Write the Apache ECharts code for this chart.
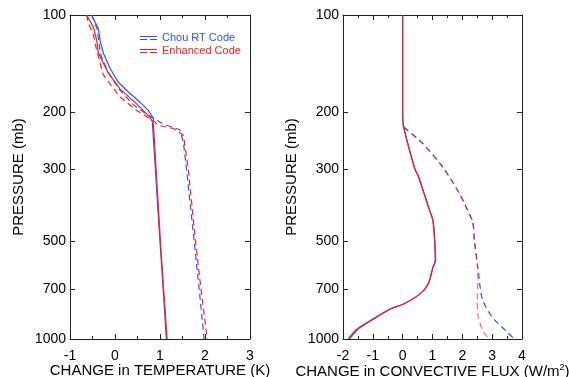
<!DOCTYPE html>
<html><head><meta charset="utf-8">
<script src="https://cdn.jsdelivr.net/npm/echarts@6/dist/echarts.min.js"></script>
<style>html,body{margin:0;padding:0;background:#fff}#c{width:569px;height:377px}</style>
</head><body><div id="c"></div>
<script>
const pressureTicks = [100, 200, 300, 500, 700, 1000];

// Left panel: change in temperature (K)
const tChouSolidP = [100, 110, 120, 131, 146, 161, 171, 186, 197, 209, 216, 225, 500, 700, 1000];
const tChouSolidX = [-0.52, -0.37, -0.33, -0.26, -0.11, 0.07, 0.26, 0.56, 0.74, 0.86, 0.83, 0.84, 1.0, 1.07, 1.14];
const tEnhSolidP = [100, 109, 119, 131, 150, 169, 188, 207, 216, 225, 500, 700, 1000];
const tEnhSolidX = [-0.63, -0.48, -0.41, -0.37, -0.16, 0.11, 0.48, 0.78, 0.85, 0.86, 1.01, 1.08, 1.16];
const tChouDashP = [100, 110, 120, 131, 150, 170, 190, 203, 210, 217, 226, 247, 300, 500, 700, 1000];
const tChouDashX = [-0.52, -0.40, -0.36, -0.33, -0.16, 0.1, 0.42, 0.72, 0.89, 1.07, 1.44, 1.52, 1.59, 1.76, 1.87, 1.98];
const tEnhDashP = [100, 106, 115, 128, 153, 179, 197, 209, 214, 219, 224, 235, 256, 300, 500, 700, 1000];
const tEnhDashX = [-0.63, -0.59, -0.48, -0.41, -0.26, 0.11, 0.48, 0.78, 0.89, 0.96, 1.3, 1.52, 1.56, 1.63, 1.79, 1.91, 2.05];

// Right panel: change in convective flux (W/m2)
const fChouSolidP = [100, 205, 222, 298, 313, 401, 431, 500, 573, 601, 677, 727, 781, 809, 879, 933, 1000];
const fChouSolidX = [0, 0, 0.04, 0.41, 0.52, 0.91, 1.02, 1.08, 1.1, 1.02, 0.86, 0.58, 0.02, -0.42, -1.07, -1.5, -1.78];
const fEnhSolidP = [100, 205, 222, 298, 313, 401, 431, 500, 573, 601, 677, 727, 781, 809, 879, 933, 1000];
const fEnhSolidX = [0, 0, 0.03, 0.40, 0.51, 0.90, 1.01, 1.07, 1.09, 1.01, 0.85, 0.57, 0.01, -0.44, -1.1, -1.54, -1.83];
const fChouDashP = [222, 250, 295, 356, 392, 436, 500, 601, 694, 763, 860, 945, 1000];
const fChouDashX = [0.04, 0.69, 1.35, 1.91, 2.13, 2.35, 2.41, 2.52, 2.6, 2.69, 3.02, 3.47, 3.74];
const fEnhDashP = [222, 250, 295, 356, 392, 436, 500, 601, 661, 763, 839, 945, 1000];
const fEnhDashX = [0.03, 0.68, 1.34, 1.90, 2.12, 2.34, 2.40, 2.51, 2.52, 2.5, 2.52, 2.69, 2.91];

const BLUE = '#2457ff', RED = '#ff1a1a', AX = '#222';
const FONT = 'Liberation Sans, Arial, Helvetica, sans-serif';

function zip(xs, ps) { return xs.map((x, i) => [x, ps[i]]); }

function xAxis(grid, min, max, pos, name) {
  return {
    type: 'value', gridIndex: grid, min: min, max: max, interval: 1, position: pos,
    name: name || '', nameLocation: 'middle', nameGap: 24, nameMoveOverlap: false,
    nameTextStyle: { fontFamily: FONT, fontSize: 15, color: '#000',
      rich: { sup: { fontFamily: FONT, fontSize: 9, verticalAlign: 'top', padding: [0, 0, 8, 0], color: '#000' } } },
    axisLine: { show: true, onZero: false, lineStyle: { color: AX, width: 1 } },
    axisTick: { show: true, inside: true, length: 5, lineStyle: { color: AX, width: 1 } },
    minorTick: { show: true, splitNumber: 2, length: 3, lineStyle: { color: AX, width: 1 } },
    axisLabel: { show: pos === 'bottom', margin: 10, fontFamily: FONT, fontSize: 14, color: '#000',
      formatter: v => String(v) },
    splitLine: { show: false }
  };
}
function yAxis(grid, pos, showName) {
  return {
    type: 'log', logBase: 10, gridIndex: grid, min: 100, max: 1000, inverse: true, position: pos,
    name: showName ? 'PRESSURE (mb)' : '', nameLocation: 'middle', nameRotate: 90, nameGap: 44,
    nameTextStyle: { fontFamily: FONT, fontSize: 15, color: '#000' },
    axisLine: { show: true, onZero: false, lineStyle: { color: AX, width: 1 } },
    axisTick: { show: true, inside: true, length: 5, customValues: pressureTicks, lineStyle: { color: AX, width: 1 } },
    minorTick: { show: false },
    axisLabel: { show: pos === 'left', margin: 4, fontFamily: FONT, fontSize: 14, color: '#000',
      customValues: pressureTicks, formatter: v => String(Math.round(v)) },
    splitLine: { show: false }
  };
}
function line(name, color, dashed, xi, yi, data, opacity, smooth) {
  return {
    type: 'line', name: name, xAxisIndex: xi, yAxisIndex: yi, data: data,
    showSymbol: false, symbol: 'none', silent: true, smooth: smooth || false,
    itemStyle: { color: color },
    lineStyle: { color: color, width: 1.2, type: dashed ? [6, 4] : 'solid', opacity: opacity == null ? 1 : opacity }
  };
}

const ICON = 'path://M0,0H17V1H0Z M0,3H7V4H0Z M10,3H17V4H10Z';

const chart = echarts.init(document.getElementById('c'), null, { renderer: 'canvas' });
chart.setOption({
  animation: false,
  backgroundColor: '#fff',
  grid: [
    { left: 70, top: 15, width: 180, height: 324, outerBoundsMode: 'none', containLabel: false },
    { left: 343, top: 15, width: 179, height: 324, outerBoundsMode: 'none', containLabel: false }
  ],
  xAxis: [
    xAxis(0, -1, 3, 'bottom', 'CHANGE in TEMPERATURE (K)'),
    xAxis(0, -1, 3, 'top'),
    xAxis(1, -2, 4, 'bottom', 'CHANGE in CONVECTIVE FLUX (W/m{sup|2})'),
    xAxis(1, -2, 4, 'top')
  ],
  yAxis: [
    yAxis(0, 'left', true),
    yAxis(0, 'right', false),
    yAxis(1, 'left', true),
    yAxis(1, 'right', false)
  ],
  legend: {
    orient: 'vertical', left: 135, top: 27, itemWidth: 17, itemHeight: 4, itemGap: 1,
    icon: ICON, selectedMode: false,
    textStyle: { fontFamily: FONT, fontSize: 11, lineHeight: 12, padding: [0, 0, 0, 0] },
    data: [
      { name: 'Chou RT Code', textStyle: { color: BLUE } },
      { name: 'Enhanced Code', textStyle: { color: RED } }
    ]
  },
  series: [
    line('Chou RT Code', BLUE, false, 0, 0, zip(tChouSolidX, tChouSolidP)),
    line('Chou RT Code', BLUE, true, 0, 0, zip(tChouDashX, tChouDashP)),
    line('Enhanced Code', RED, false, 0, 0, zip(tEnhSolidX, tEnhSolidP)),
    line('Enhanced Code', RED, true, 0, 0, zip(tEnhDashX, tEnhDashP)),
    line('Chou RT Code', BLUE, false, 2, 2, zip(fChouSolidX, fChouSolidP), 1, 0.3),
    line('Chou RT Code', BLUE, true, 2, 2, zip(fChouDashX, fChouDashP), 1, 0.3),
    line('Enhanced Code', RED, false, 2, 2, zip(fEnhSolidX, fEnhSolidP), 1, 0.3),
    line('Enhanced Code', RED, true, 2, 2, zip(fEnhDashX, fEnhDashP), 0.65, 0.3)
  ]
});
</script></body></html>
